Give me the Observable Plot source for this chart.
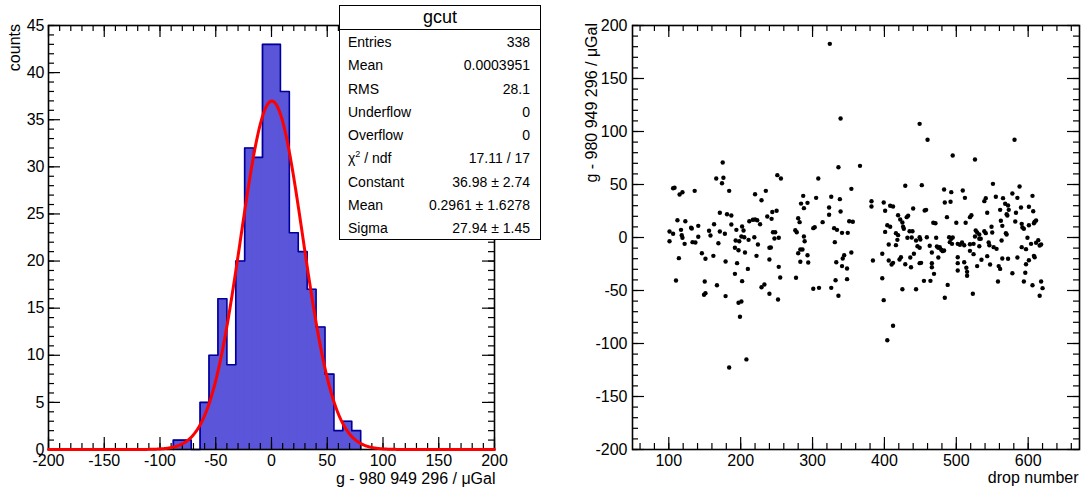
<!DOCTYPE html>
<html><head><meta charset="utf-8">
<script src="https://cdn.jsdelivr.net/npm/d3@7"></script>
<script src="https://cdn.jsdelivr.net/npm/@observablehq/plot@0.6"></script>
<style>
body{margin:0;background:#fff;}
#wrap{position:relative;width:1081px;height:490px;overflow:hidden;font-family:"Liberation Sans",Arial,sans-serif;color:#000;}
#left{position:absolute;left:0;top:0;}
#right{position:absolute;left:560px;top:0;}
#stats{position:absolute;left:339px;top:5px;width:202px;height:235px;box-sizing:border-box;border:1.5px solid #000;background:#fff;}
#stats .title{height:23px;line-height:23px;text-align:center;font-size:18px;border-bottom:1.5px solid #000;}
#stats .rows{padding-top:1px;}
#stats .row{display:flex;justify-content:space-between;height:23.3px;line-height:23.3px;font-size:14px;padding:0 10px 0 8px;}
#stats sup{font-size:9px;line-height:0;vertical-align:6px;}
.ytitle{position:absolute;width:300px;height:16px;line-height:16px;font-size:16px;text-align:right;white-space:nowrap;transform-origin:0 0;transform:rotate(-90deg);}
</style></head><body>
<div id="wrap"><div id="left"></div><div id="right"></div><div id="stats"></div>
<div class="ytitle" id="ytL" style="left:7px;top:324px;"></div>
<div class="ytitle" id="ytR" style="left:584px;top:323px;"></div>
</div>
<script>
// ---------- histogram data (bin width 8, bins aligned to 0) ----------
const binLow = [-88,-80,-72,-64,-56,-48,-40,-32,-24,-16,-8,0,8,16,24,32,40,48,56,64,72];
const binCounts = [1,1,0,5,10,16,9,20,32,31,43,43,38,23,21,17,13,8,2,3,2];
const binWidth = 8;
// gaussian fit parameters from the stats box
const fitConstant = 36.98, fitMean = 0.2961, fitSigma = 27.94;

// stats box
const statTitle = "gcut";
const statLabels = ["Entries","Mean","RMS","Underflow","Overflow","χ<sup>2</sup> / ndf","Constant","Mean","Sigma"];
const statValues = ["338","0.0003951","28.1","0","0","17.11 / 17","36.98 ± 2.74","0.2961 ± 1.6278","27.94 ± 1.45"];

// axis titles
const leftYTitle = "counts", leftXTitle = "g - 980 949 296 / μGal";
const rightYTitle = "g - 980 949 296 / μGal", rightXTitle = "drop number";

// tick labels
const xTicksL = [-200,-150,-100,-50,0,50,100,150,200];
const yTicksL = [0,5,10,15,20,25,30,35,40,45];
const xTicksR = [100,200,300,400,500,600];
const yTicksR = [-200,-150,-100,-50,0,50,100,150,200];

// ---------- scatter data: drop number vs g - 980 949 296 (µGal) ----------
const dropNumber = [
175,166,176,174,184,106,108,115,119,136,171,181,187,112,123,212,163,141,131,132,187,202,117,194,204,101,106,156,171,178,118,119,158,141,201,205,211,101,122,133,137,169,193,198,192,197,206,146,162,151,114,179,195,210,192,110,150,167,202,149,151,179,197,201,199,184,208,
336,366,251,256,308,354,220,235,229,287,284,293,305,326,338,288,323,339,244,250,237,243,280,282,323,217,220,223,227,314,351,356,301,303,330,334,276,278,245,248,341,349,219,247,253,288,289,331,224,240,242,283,286,280,293,344,342,354,222,240,283,294,333,341,348,253,255,277,332,348,229,233,240,252,301,309,326,336,324,339,
449,460,495,429,452,483,493,492,484,382,382,399,401,408,412,440,456,458,487,419,433,431,422,425,426,427,404,408,468,471,500,435,439,401,416,419,418,432,449,450,438,444,459,472,490,493,495,491,494,502,406,416,446,449,463,473,475,477,479,481,483,466,475,397,423,421,436,441,406,412,410,429,437,449,451,466,466,502,502,502,384,469,455,464,397,488,425,444,484,399,404,412,
581,526,551,588,509,512,578,585,606,541,539,555,565,568,572,573,561,570,571,543,583,601,607,590,519,521,513,562,564,582,609,611,608,591,592,594,601,549,539,541,527,529,532,526,532,534,550,563,569,570,599,614,611,616,618,604,591,597,552,556,545,546,519,524,508,511,505,519,524,532,543,564,572,608,609,585,535,511,601,547,559,561,597,514,515,529,515,578,596,558,594,618,620,616,606,523
];
const gValue = [
70.8,55.7,56.3,51.2,44,46.5,47,40.6,42.7,44,23.3,22,20.8,16.3,15.4,15.4,12.5,11,9.2,8.5,12.3,10.4,7.2,7.2,6.6,5.7,3.5,6.3,5.7,3.5,2.2,-0.3,1.9,0.7,0.9,0.3,-2.2,-3.5,-6,-4.4,-4.7,-5.4,-2.8,-3.5,-9.7,-12,-14.2,-14.8,-17.3,-20,-19.5,-22.6,-24.2,-29.6,-34.3,-40.6,-41.5,-45,-41.2,-54,-52.5,-55.3,-61.6,-60.4,-74.8,-122.6,-115,
66.3,67.6,58.8,55.7,55.7,45.9,40.8,44,35.2,39.3,32,32.7,37.4,38.4,36.2,27.7,28.3,24.5,24,25.2,19.8,17.6,18.2,14.5,21.4,16.7,17,16.3,12.5,14.5,15.4,14.8,8.8,9.7,8.8,7.2,6.9,5,5,5,4.4,4.4,0.3,-0.9,-0.3,0.9,-3.5,-4.4,-6.6,-9.7,-9.4,-11.3,-11.3,-14.8,-16.7,-16.7,-19.8,-14.2,-17.3,-20.8,-22.9,-23.6,-23.3,-27,-29.2,-27.7,-37.7,-38,-40.3,-39.3,-46.9,-44.3,-53.1,-58.5,-48.4,-47.5,-47.5,-55,182.7,112.3,
107.2,92.2,77.4,48.8,49.4,45.3,42.8,33.7,33,34.2,29.2,33,25.2,29.9,29.2,27.4,25.5,26.1,19.2,21,20.5,19.2,17,14.2,10.1,8.2,11.6,10.1,13.9,13.5,13.9,5.9,5.9,5.3,4.1,2.2,-2.2,-0.3,0.3,-1.9,0,-2.8,0.3,-0.3,0.3,-1.2,0,-4.4,-6,-6,-6.6,-7.2,-8.2,-9.7,-7.8,-8.5,-9.7,-9.1,-11.6,-12.9,-12.3,-14.2,-18.9,-15.4,-18.6,-20.8,-18.9,-15.4,-21.7,-23.9,-25.5,-25.2,-28,-24.2,-23.9,-24.2,-28,-18.6,-24.2,-31.1,-21.7,-34.3,-40.9,-40.9,-38.4,-44.7,-48.8,-48.8,-56.9,-59.1,-96.9,-83.3,
92.2,73.6,50.6,48.1,44.3,37.4,41.5,37.4,39.3,37.1,34.3,38.4,37.1,31.8,30.2,26.1,26.1,22,20.8,23.3,23.3,29,24.8,28.3,19.2,21,13.9,15.8,11,15.1,14.8,16,13.5,12.9,9.4,8.2,11.6,10.1,5.9,4.1,6.6,4.7,2.8,0.9,-1.2,-1.2,4.7,-2.8,4.1,2.8,-0.3,-2.5,-5,-7.5,-6.6,-6,-9.1,-11,-9.1,-10.7,-4.7,-7.3,-6.3,-6,-4.7,-7.3,-6.9,-12.6,-15.7,-8.2,-17.6,-19.8,-20.1,-17.3,-18.6,-18.9,-21,-23.3,-21.4,-25.5,-27,-29.6,-25.2,-28.6,-32.4,-27,-36.1,-33.7,-33.3,-41.5,-41.5,-41.5,-47.8,-55,-45,-53.1
];

// ---------- derived tables ----------
const bins = binLow.map((x1, i) => ({x1, x2: x1 + binWidth, count: binCounts[i]}));
const outline = [{x: binLow[0], y: 0}]
  .concat(bins.map(b => ({x: b.x1, y: b.count})))
  .concat([{x: bins[bins.length-1].x2, y: binCounts[binCounts.length-1]}, {x: bins[bins.length-1].x2, y: 0}]);
const fitCurve = d3.range(-200, 200.01, 0.5).map(x => ({x, y: fitConstant * Math.exp(-0.5 * ((x - fitMean) / fitSigma) ** 2)}));
const points = dropNumber.map((n, i) => ({n, g: gValue[i]}));

const FONT = "Liberation Sans, Arial, sans-serif";
const TICK = "#000";
const MAJ = 12, MIN = 6;

function tickMarks(xMaj, xMin, yMaj, yMin, pw, ph) {
  const o = {stroke: TICK, strokeWidth: 1.2};
  return [
    Plot.tickX(xMaj, {x: d => d, insetTop: ph - MAJ, ...o}),
    Plot.tickX(xMin, {x: d => d, insetTop: ph - MIN, ...o}),
    Plot.tickX(xMaj, {x: d => d, insetBottom: ph - MAJ, ...o}),
    Plot.tickX(xMin, {x: d => d, insetBottom: ph - MIN, ...o}),
    Plot.tickY(yMaj, {y: d => d, insetRight: pw - MAJ, ...o}),
    Plot.tickY(yMin, {y: d => d, insetRight: pw - MIN, ...o}),
    Plot.tickY(yMaj, {y: d => d, insetLeft: pw - MAJ, ...o}),
    Plot.tickY(yMin, {y: d => d, insetLeft: pw - MIN, ...o})
  ];
}

// ---------- left: histogram ----------
const LW = 545, LH = 490, LML = 48, LMR = 51, LMT = 25, LMB = 41;
const lpw = LW - LML - LMR, lph = LH - LMT - LMB;
const xMinL = d3.range(-200, 201, 10), yMinL = d3.range(0, 46, 1);
const left = Plot.plot({
  width: LW, height: LH, marginLeft: LML, marginRight: LMR, marginTop: LMT, marginBottom: LMB,
  x: {domain: [-200, 200], label: null},
  y: {domain: [0, 45], label: null},
  style: {fontFamily: FONT, fontSize: "16px", color: "#000", background: "transparent", overflow: "visible"},
  marks: [
    Plot.rectY(bins, {x1: "x1", x2: "x2", y: "count", fill: "#5a55d9", insetLeft: -0.4, insetRight: -0.4}),
    Plot.line(outline, {x: "x", y: "y", curve: "step-after", stroke: "#000099", strokeWidth: 1.6}),
    ...tickMarks(xTicksL, xMinL, yTicksL, yMinL, lpw, lph),
    Plot.frame({stroke: "#000", strokeWidth: 1.6}),
    Plot.line(fitCurve, {x: "x", y: "y", stroke: "#ff0000", strokeWidth: 3}),
    Plot.axisX(xTicksL, {tickSize: 0, tickPadding: 5, tickFormat: d => String(d), fontSize: 16, label: null}),
    Plot.axisY(yTicksL, {tickSize: 0, tickPadding: 4, tickFormat: d => String(d), fontSize: 16, label: null}),
    Plot.text([leftXTitle], {text: d => d, frameAnchor: "bottom-right", textAnchor: "end", dx: 1, dy: 34, fontSize: 16})
  ]
});
document.getElementById("left").appendChild(left);

// ---------- right: scatter ----------
const RW = 521, RH = 490, RML = 72, RMR = 2, RMT = 25, RMB = 41;
const rpw = RW - RML - RMR, rph = RH - RMT - RMB;
const xMinR = d3.range(60, 671, 20), yMinR = d3.range(-200, 201, 10);
const right = Plot.plot({
  width: RW, height: RH, marginLeft: RML, marginRight: RMR, marginTop: RMT, marginBottom: RMB,
  x: {domain: [49.5, 671.4], label: null},
  y: {domain: [-200, 200], label: null},
  style: {fontFamily: FONT, fontSize: "16px", color: "#000", background: "transparent", overflow: "visible"},
  marks: [
    ...tickMarks(xTicksR, xMinR, yTicksR, yMinR, rpw, rph),
    Plot.frame({stroke: "#000", strokeWidth: 1.6}),
    Plot.dot(points, {x: "n", y: "g", r: 2.2, fill: "#000", stroke: null}),
    Plot.axisX(xTicksR, {tickSize: 0, tickPadding: 5, tickFormat: d => String(d), fontSize: 16, label: null}),
    Plot.axisY(yTicksR, {tickSize: 0, tickPadding: 5, tickFormat: d => String(d), fontSize: 16, label: null}),
    Plot.text([rightXTitle], {text: d => d, frameAnchor: "bottom-right", textAnchor: "end", dx: -1, dy: 33, fontSize: 16})
  ]
});
document.getElementById("right").appendChild(right);

// ---------- rotated y titles ----------
document.getElementById("ytL").textContent = leftYTitle;
document.getElementById("ytR").textContent = rightYTitle;

// ---------- stats box ----------
const stats = document.getElementById("stats");
stats.innerHTML = `<div class="title">${statTitle}</div><div class="rows">` +
  statLabels.map((l, i) => `<div class="row"><span>${l}</span><span>${statValues[i]}</span></div>`).join("") + `</div>`;
</script>
</body></html>
